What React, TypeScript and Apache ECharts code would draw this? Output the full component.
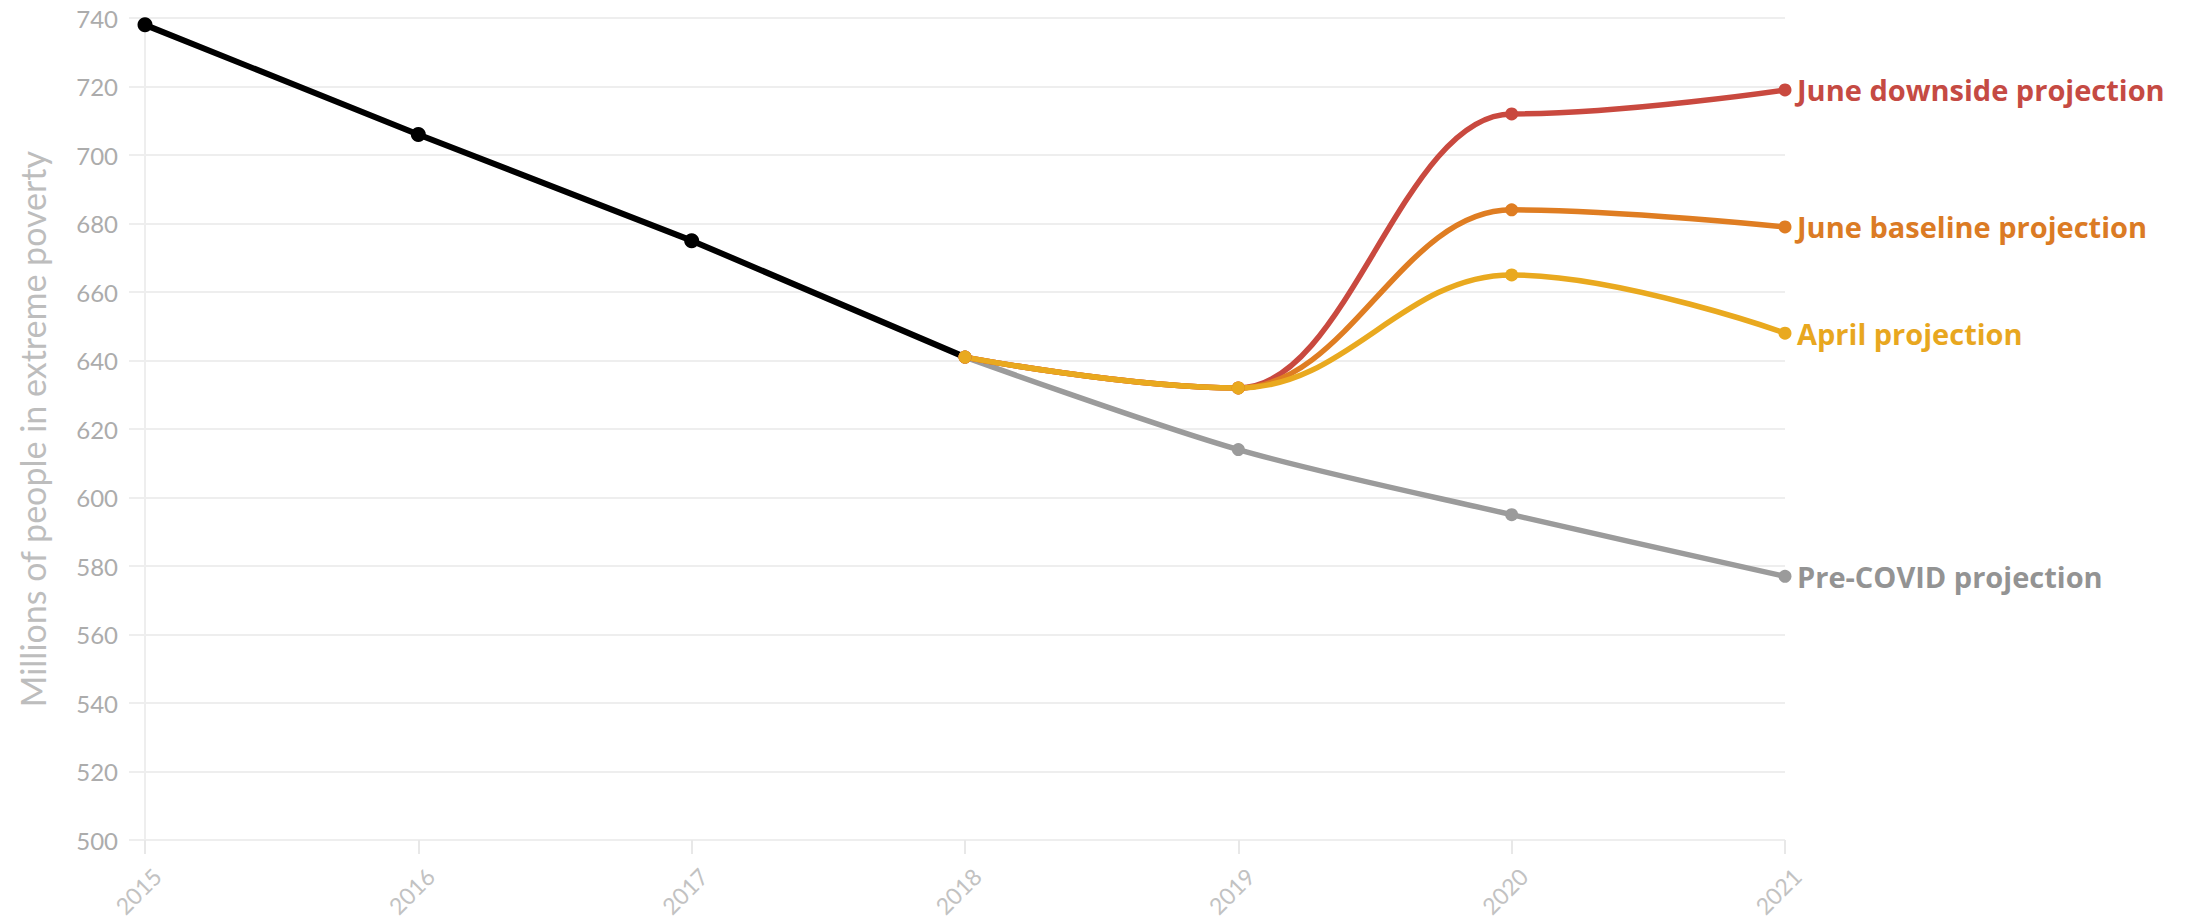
import React, { useEffect, useRef } from "react";
import * as echarts from "echarts";

const years = ["2015", "2016", "2017", "2018", "2019", "2020", "2021"];
const observed = [738, 706, 675, 641, null, null, null];
const preCovid = [null, null, null, 641, 614, 595, 577];
const juneDownside = [null, null, null, 641, 632, 712, 719];
const juneBaseline = [null, null, null, 641, 632, 684, 679];
const aprilProjection = [null, null, null, 641, 632, 665, 648];

const yMin = 500;
const yMax = 740;
const yStep = 20;
const yTitle = "Millions of people in extreme poverty";

const FONT = "Lato, 'Open Sans', sans-serif";
const LABEL_FONT = "'Open Sans', Lato, sans-serif";

export default function App() {
  const ref = useRef<HTMLDivElement>(null);

  useEffect(() => {
    if (!ref.current) return;
    const chart = echarts.init(ref.current, null, { renderer: "svg" });

    const projection = (name: string, data: (number | null)[], color: string, textColor: string, monotone: boolean) => ({
      name,
      type: "line",
      data,
      smooth: monotone ? 0.4 : 0.3,
      smoothMonotone: monotone ? "x" : undefined,
      symbol: "circle",
      symbolSize: 13,
      showSymbol: true,
      lineStyle: { color, width: 5.5 },
      itemStyle: { color },
      endLabel: {
        show: true,
        formatter: "{a}",
        color: textColor,
        fontFamily: LABEL_FONT,
        fontWeight: "bold",
        fontSize: 29,
        distance: 12,
      },
      emphasis: { disabled: true },
    });

    // the last observed point is hidden under the projections' shared start marker
    const lastObserved = observed.reduce((acc: number, v, i) => (v !== null ? i : acc), -1);
    const observedData = observed.map((v, i) =>
      i === lastObserved ? { value: v, symbol: "none" } : v
    );

    chart.setOption({
      animation: false,
      backgroundColor: "#ffffff",
      grid: { left: 145, right: 416, top: 18, bottom: 83, containLabel: false },
      xAxis: {
        type: "category",
        data: years,
        boundaryGap: false,
        axisLine: { show: false },
        axisTick: { show: true, length: 14, lineStyle: { color: "#e8e8e8", width: 2 } },
        axisLabel: {
          rotate: 45,
          color: "#c2c2c2",
          fontFamily: FONT,
          fontSize: 23,
          margin: 20,
          verticalAlign: "top",
          lineHeight: 34,
        },
        splitLine: { show: false },
      },
      yAxis: {
        type: "value",
        min: yMin,
        max: yMax,
        interval: yStep,
        name: yTitle,
        nameLocation: "middle",
        nameGap: 96,
        nameTextStyle: { color: "#bdbdbd", fontFamily: FONT, fontSize: 34 },
        axisLine: { show: true, lineStyle: { color: "#eeeeee", width: 2 } },
        axisTick: { show: true, length: 16, lineStyle: { color: "#eeeeee", width: 2 } },
        axisLabel: { color: "#acacac", fontFamily: FONT, fontSize: 24, margin: 27 },
        splitLine: { show: true, lineStyle: { color: "#eeeeee", width: 2 } },
      },
      series: [
        {
          name: "Observed",
          type: "line",
          data: observedData,
          smooth: false,
          symbol: "circle",
          symbolSize: 15,
          lineStyle: { color: "#000000", width: 6 },
          itemStyle: { color: "#000000" },
          emphasis: { disabled: true },
        },
        projection("Pre-COVID projection", preCovid, "#9b9b9b", "#939393", false),
        projection("June downside projection", juneDownside, "#c9493f", "#c54a43", true),
        projection("June baseline projection", juneBaseline, "#df7d22", "#db7b24", true),
        projection("April projection", aprilProjection, "#e9a91f", "#e8a71f", true),
      ],
    });

    return () => chart.dispose();
  }, []);

  return (
    <div
      ref={ref}
      style={{ position: "fixed", left: 0, top: 0, width: 2201, height: 924, background: "#fff" }}
    />
  );
}
